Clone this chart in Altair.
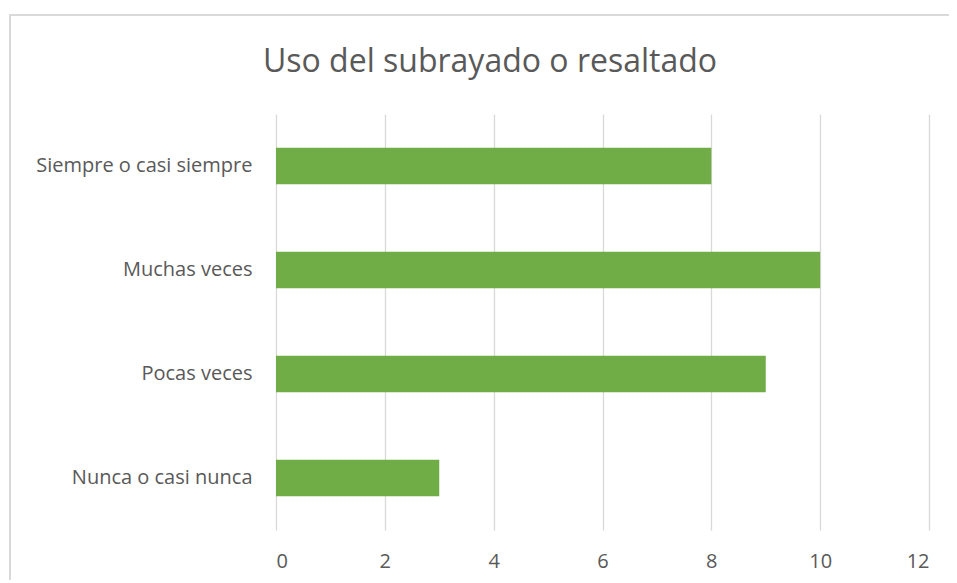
import altair as alt
import pandas as pd

categories = ["Siempre o casi siempre", "Muchas veces", "Pocas veces", "Nunca o casi nunca"]
values = [8, 10, 9, 3]
x_ticks = [0, 2, 4, 6, 8, 10, 12]
title_text = "Uso del subrayado o resaltado"

df = pd.DataFrame({"cat": categories, "val": values})
tdf = pd.DataFrame({"t": [title_text]})

FONT = "Open Sans"
GREY = "#595959"

bars = alt.Chart(df).mark_bar(color="#70AD47").encode(
    x=alt.X("val:Q",
            scale=alt.Scale(domain=[0, 12], nice=False),
            axis=alt.Axis(values=x_ticks, title=None, domain=False, ticks=False,
                          gridColor="#d9d9d9", gridWidth=1.3,
                          labelFont=FONT, labelFontSize=20, labelColor=GREY,
                          labelPadding=21)),
    y=alt.Y("cat:N", sort=categories,
            scale=alt.Scale(paddingInner=0.65, paddingOuter=0.325),
            axis=alt.Axis(title=None, domain=False, ticks=False, grid=False,
                          labelFont=FONT, labelFontSize=20, labelColor=GREY,
                          labelPadding=24, labelLimit=400)),
)

border = alt.Chart(df).mark_rect(fill=None, stroke="#d9d9d9", strokeWidth=1.3, clip=False).encode(
    x=alt.value(-266), x2=alt.value(1000), y=alt.value(-99), y2=alt.value(700)
)

title = alt.Chart(tdf).mark_text(font=FONT, fontSize=32, color=GREY, align="center",
                                 baseline="middle", clip=False).encode(
    text="t:N", x=alt.value(214), y=alt.value(-52)
)

chart = alt.layer(border, bars, title).properties(
    width=653, height=416,
    autosize=alt.AutoSizeParams(type="none"),
    padding={"left": 268, "top": 106, "right": 20, "bottom": 50},
).configure_view(stroke=None)

chart.save("out.html", embed_options={"renderer": "svg", "actions": False})
